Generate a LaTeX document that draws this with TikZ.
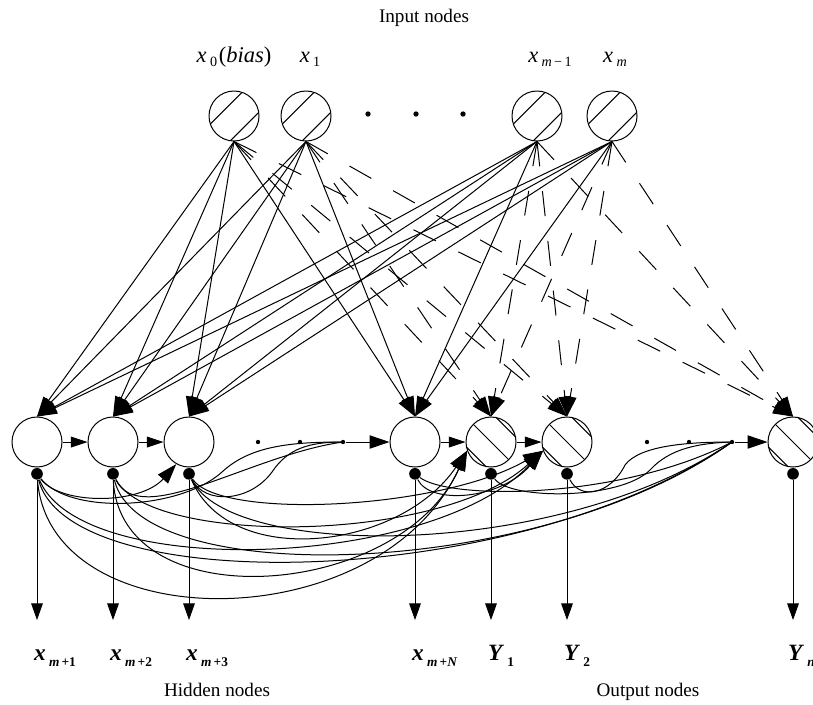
\documentclass[tikz,border=0pt]{standalone}
\usepackage{fontspec}
\setmainfont{Liberation Serif}
\usetikzlibrary{arrows.meta,positioning}

\newcommand{\toplab}[2]{\textit{#1}\kern2pt\raisebox{-0.45ex}{\fontsize{8.5}{9}\selectfont #2}}
\newcommand{\botlab}[2]{\textbf{\textit{#1}}\kern2pt\raisebox{-0.6ex}{\fontsize{8}{8}\selectfont\bfseries #2}}

\begin{document}
\begin{tikzpicture}[
  x=0.6pt,y=-0.6pt,line width=0.6pt,
  font=\fontsize{11.5}{13}\selectfont,
  neuron/.style={draw,circle,minimum size=30pt,inner sep=0pt},
  innode/.style={neuron,path picture={
    \draw ([shift={(-17.4pt,-8pt)}]path picture bounding box.center) -- ++(25.4pt,25.4pt);
    \draw ([shift={(-6.4pt,-19.1pt)}]path picture bounding box.center) -- ++(25.4pt,25.4pt);}},
  hidnode/.style={neuron},
  outnode/.style={neuron,path picture={
    \draw ([shift={(-12.7pt,12.7pt)}]path picture bounding box.center) -- ++(25.4pt,-25.4pt);
    \draw ([shift={(-3.8pt,21.6pt)}]path picture bounding box.center) -- ++(25.4pt,-25.4pt);
    \draw ([shift={(-21.6pt,3.8pt)}]path picture bounding box.center) -- ++(25.4pt,-25.4pt);}},
  odot/.style={circle,fill,inner sep=0pt,minimum size=7pt},
  edot/.style={circle,fill,inner sep=0pt,minimum size=2.6pt},
  arr/.style={-{Triangle[length=12pt,width=7.5pt]}},
  darr/.style={arr,dash pattern=on 15pt off 15pt},
  harr/.style={-{Triangle[length=10pt,width=6.5pt]}},
  carr/.style={-{Triangle[length=12pt,width=8pt]}},
  varr/.style={-{Triangle[length=10pt,width=7pt]}},
  ttl/.style={anchor=base},
  toptxt/.style={anchor=base,font=\fontsize{13.5}{14}\selectfont},
  lab/.style={anchor=base west,font=\fontsize{14}{14}\selectfont}
]
\useasboundingbox (0,0) rectangle (813,704);

% input layer
\node[ttl] (tin) at (424,22) {Input nodes};
\node[innode] (x0) at (234,116) {};
\node[innode] (x1) at (306,116) {};
\node[innode] (xm1) at (537,116) {};
\node[innode] (xm) at (612,116) {};
\node[toptxt] (lx0) at (234,62) {\toplab{x}{0}\kern1pt(\textit{bias})};
\node[toptxt] (lx1) at (310,62) {\toplab{x}{1}};
\node[toptxt] (lxm1) at (550,62) {\toplab{x}{\textit{m}\,−\,1}};
\node[toptxt] (lxm) at (615,62) {\toplab{x}{\textit{m}}};
\node[edot,minimum size=3.2pt] (e1) at (368,114) {};
\node[edot,minimum size=3.2pt] (e2) at (416,114) {};
\node[edot,minimum size=3.2pt] (e3) at (463,114) {};

% hidden and output layer
\node[hidnode] (h1) at (37,442) {};
\node[hidnode] (h2) at (113,442) {};
\node[hidnode] (h3) at (189,442) {};
\node[hidnode] (hN) at (415,442) {};
\node[outnode] (y1) at (491,442) {};
\node[outnode] (y2) at (567,442) {};
\node[outnode] (yn) at (793,442) {};
\node[edot] (e4) at (258,442) {};
\node[edot] (e5) at (300,442) {};
\node[edot] (e6) at (343,442) {};
\node[edot] (e7) at (647,442) {};
\node[edot] (e8) at (689,442) {};
\node[edot] (e9) at (732,442) {};
\node[odot,below=0pt of h1] (dh1) {};
\node[odot,below=0pt of h2] (dh2) {};
\node[odot,below=0pt of h3] (dh3) {};
\node[odot,below=0pt of hN] (dhN) {};
\node[odot,below=0pt of y1] (dy1) {};
\node[odot,below=0pt of y2] (dy2) {};
\node[odot,below=0pt of yn] (dyn) {};

% input -> hidden
\draw[arr] (x0.south) -- (h1.north);
\draw[arr] (x0.south) -- (h2.north);
\draw[arr] (x0.south) -- (h3.north);
\draw[arr] (x0.south) -- (hN.north);
\draw[arr] (x1.south) -- (h1.north);
\draw[arr] (x1.south) -- (h2.north);
\draw[arr] (x1.south) -- (h3.north);
\draw[arr] (x1.south) -- (hN.north);
\draw[arr] (xm1.south) -- (h1.north);
\draw[arr] (xm1.south) -- (h2.north);
\draw[arr] (xm1.south) -- (h3.north);
\draw[arr] (xm1.south) -- (hN.north);
\draw[arr] (xm.south) -- (h1.north);
\draw[arr] (xm.south) -- (h2.north);
\draw[arr] (xm.south) -- (h3.north);
\draw[arr] (xm.south) -- (hN.north);
% input -> output
\draw[darr] (x0.south) -- (y1.north);
\draw[darr] (x0.south) -- (y2.north);
\draw[darr] (x0.south) -- (yn.north);
\draw[darr] (x1.south) -- (y1.north);
\draw[darr] (x1.south) -- (y2.north);
\draw[darr] (x1.south) -- (yn.north);
\draw[darr] (xm1.south) -- (y1.north);
\draw[darr] (xm1.south) -- (y2.north);
\draw[darr] (xm1.south) -- (yn.north);
\draw[darr] (xm.south) -- (y1.north);
\draw[darr] (xm.south) -- (y2.north);
\draw[darr] (xm.south) -- (yn.north);

% cascade links
\draw[harr] (h1) -- (h2);
\draw[harr] (h2) -- (h3);
\draw[harr] (hN) -- (y1);
\draw[harr] (y1) -- (y2);
\draw[carr] (e6) -- (hN);
\draw[carr] (e9) -- (yn);
\draw[carr] (dh1) .. controls (60,505) and (140,505) .. (h3.240);
\draw (dh1) .. controls (70,515) and (180,510) .. (222,472) .. controls (250,446) and (290,442) .. (e6.center);
\draw (dh2) .. controls (140,530) and (250,455) .. (e6.center);
\draw (dh3) .. controls (205,505) and (250,502) .. (272,472) .. controls (288,448) and (310,442) .. (e6.center);
\draw[carr] (dh1) .. controls (50,640) and (380,640) .. (y1.200);
\draw[carr] (dh2) .. controls (120,620) and (400,600) .. (y1.200);
\draw[carr] (dh3) .. controls (230,570) and (400,550) .. (y1.200);
\draw[carr] (dh1) .. controls (80,580) and (430,570) .. (y2.200);
\draw[carr] (dh2) .. controls (150,545) and (440,545) .. (y2.200);
\draw[carr] (dh3) .. controls (220,520) and (440,510) .. (y2.200);
\draw[carr] (dhN) .. controls (430,505) and (500,500) .. (y2.200);
\draw (dh1) .. controls (70,600) and (520,590) .. (e9.center);
\draw (dh2) .. controls (140,590) and (540,580) .. (e9.center);
\draw (dh3) .. controls (230,560) and (560,560) .. (e9.center);
\draw (dhN) .. controls (450,500) and (620,500) .. (e9.center);
\draw (dy1) .. controls (510,500) and (620,500) .. (650,470) .. controls (670,448) and (700,443) .. (e9.center);
\draw (dy2) .. controls (580,500) and (610,495) .. (625,465) .. controls (640,445) and (690,442) .. (e9.center);

% outputs
\coordinate (oh1) at (37,620);
\coordinate (oh2) at (113,620);
\coordinate (oh3) at (189,620);
\coordinate (ohN) at (415,620);
\coordinate (oy1) at (491,620);
\coordinate (oy2) at (567,620);
\coordinate (oyn) at (793,620);
\draw[varr] (dh1) -- (oh1);
\draw[varr] (dh2) -- (oh2);
\draw[varr] (dh3) -- (oh3);
\draw[varr] (dhN) -- (ohN);
\draw[varr] (dy1) -- (oy1);
\draw[varr] (dy2) -- (oy2);
\draw[varr] (dyn) -- (oyn);
\node[lab] (lh1) at (28,660) {\botlab{x}{\textit{m}\,+1}};
\node[lab] (lh2) at (104,660) {\botlab{x}{\textit{m}\,+2}};
\node[lab] (lh3) at (180,660) {\botlab{x}{\textit{m}\,+3}};
\node[lab] (lhN) at (406,660) {\botlab{x}{\textit{m}\,+\textit{N}}};
\node[lab] (ly1) at (482,660) {\botlab{Y}{1}};
\node[lab] (ly2) at (558,660) {\botlab{Y}{2}};
\node[lab] (lyn) at (782,660) {\botlab{Y}{\textit{n}}};
\node[ttl] (thid) at (217,696) {Hidden nodes};
\node[ttl] (tout) at (648,696) {Output nodes};
\end{tikzpicture}
\end{document}
